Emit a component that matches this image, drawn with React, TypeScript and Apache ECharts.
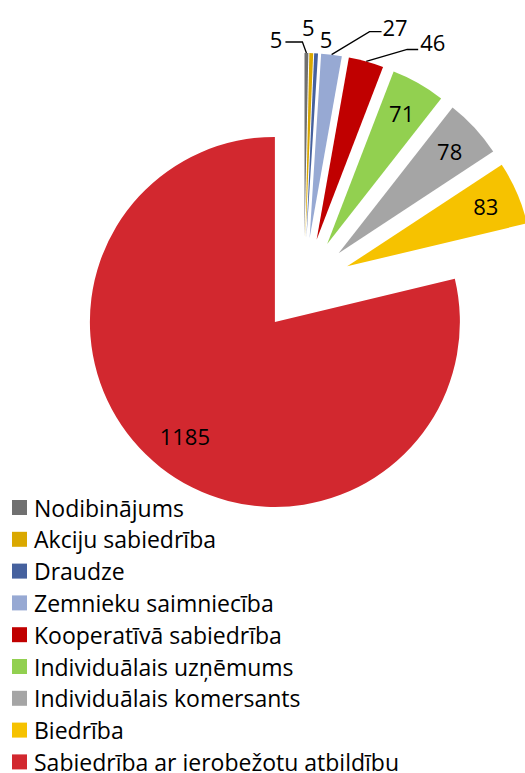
import React, { useEffect, useRef } from 'react';
import * as echarts from 'echarts';

const categories = [
  'Nodibinājums',
  'Akciju sabiedrība',
  'Draudze',
  'Zemnieku saimniecība',
  'Kooperatīvā sabiedrība',
  'Individuālais uzņēmums',
  'Individuālais komersants',
  'Biedrība',
  'Sabiedrība ar ierobežotu atbildību',
];
const values = [5, 5, 5, 27, 46, 71, 78, 83, 1185];
const colors = ['#707070', '#DAA800', '#46619E', '#97A9D3', '#C00000', '#92D050', '#A5A5A5', '#F6C200', '#D2282F'];
const outsideLabels = [true, true, true, true, true, false, false, false, false];

const FONT = '"Open Sans", "Liberation Sans", sans-serif';
const FS_LEGEND = 23;
const FS_LABEL = 22;

export default function App() {
  const ref = useRef<HTMLDivElement>(null);
  useEffect(() => {
    document.body.style.margin = '0';
    const chart = echarts.init(ref.current!, null, { renderer: 'svg' });
    const C = [304, 285];
    const R = 185;
    const explode = 47;
    const total = values.reduce((a, b) => a + b, 0);
    let acc = 0;
    const mids = values.map((v) => {
      const m = ((acc + v / 2) / total) * Math.PI * 2;
      acc += v;
      return m;
    });

    const outsideLayout = (i: number) => (p: any) => {
      const pts = p.labelLinePoints;
      if (!pts) return {};
      const x0 = pts[0][0];
      const y0 = pts[0][1];
      switch (i) {
        case 0: {
          const p1 = [x0 - 4, y0 - 11];
          const p2 = [p1[0] - 17, p1[1]];
          return { x: p2[0] - 3, y: p2[1] - 3, align: 'right', verticalAlign: 'middle', labelLinePoints: [[x0, y0], p1, p2] };
        }
        case 1:
          return { x: x0 - 3, y: y0 - 26, align: 'center', verticalAlign: 'middle', labelLinePoints: [[x0, y0], [x0, y0], [x0, y0]] };
        case 2:
          return { x: x0 + 10, y: y0 - 14, align: 'center', verticalAlign: 'middle', labelLinePoints: [[x0, y0], [x0, y0], [x0, y0]] };
        case 3: {
          const p1 = [x0 + 38, y0 - 23];
          const p2 = [p1[0] + 12, p1[1]];
          return { x: p2[0] + 1, y: p2[1] - 5, align: 'left', verticalAlign: 'middle', labelLinePoints: [[x0, y0], p1, p2] };
        }
        case 4: {
          const p1 = [x0 + 41, y0 - 12];
          const p2 = [p1[0] + 11, p1[1]];
          return { x: p2[0] + 2, y: p2[1] - 7, align: 'left', verticalAlign: 'middle', labelLinePoints: [[x0, y0], p1, p2] };
        }
        default:
          return {};
      }
    };
    const insideLayout = (i: number) => () => {
      const k = i === 8 ? 0.27 : 0.3;
      return {
        dx: k * R * Math.sin(mids[i]),
        dy: -k * R * Math.cos(mids[i]),
      };
    };

    const series = categories.map((name, i) => {
      const outside = outsideLabels[i];
      return {
        type: 'pie',
        center: [C[0] + explode * Math.sin(mids[i]), C[1] - explode * Math.cos(mids[i])],
        radius: [0, R],
        startAngle: 90,
        clockwise: true,
        silent: true,
        avoidLabelOverlap: false,
        emphasis: { disabled: true },
        itemStyle: { borderWidth: 0 },
        label: {
          position: outside ? 'outside' : 'inside',
          fontFamily: FONT,
          fontSize: FS_LABEL,
          color: '#000',
          formatter: '{c}',
        },
        labelLine: { show: outside, length: 10, length2: 10, lineStyle: { color: '#000', width: 1.3 } },
        labelLayout: outside ? outsideLayout(i) : insideLayout(i),
        data: values.map((v, j) =>
          j === i
            ? { name, value: v, itemStyle: { color: colors[i] }, label: { show: true }, labelLine: { show: outside } }
            : { name: '', value: v, itemStyle: { color: 'rgba(0,0,0,0)' }, label: { show: false }, labelLine: { show: false } }
        ),
      };
    });

    chart.setOption({
      animation: false,
      textStyle: { fontFamily: FONT },
      legend: {
        orient: 'vertical',
        left: 12,
        top: 496,
        height: 330,
        padding: 0,
        icon: 'rect',
        itemWidth: 15,
        itemHeight: 15,
        itemGap: 8.8,
        data: categories,
        selectedMode: false,
        textStyle: { fontFamily: FONT, fontSize: FS_LEGEND, color: '#000', padding: [0, 0, 0, 2] },
      },
      series,
    });
    return () => chart.dispose();
  }, []);
  return <div ref={ref} style={{ width: 525, height: 773 }} />;
}
